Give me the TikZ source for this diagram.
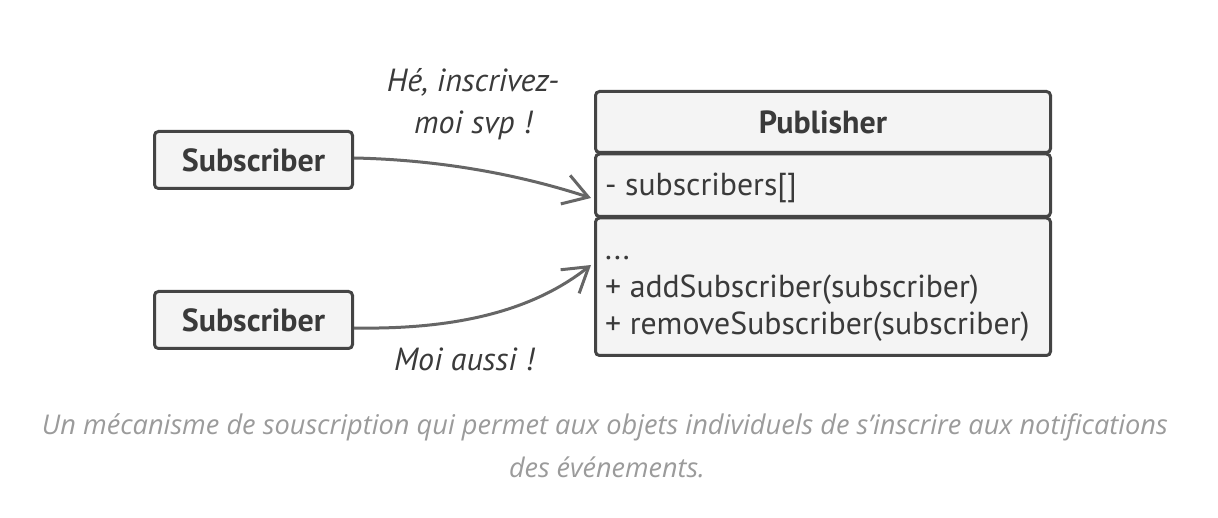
\documentclass[tikz,border=0pt]{standalone}
\usepackage{fontspec}
\setmainfont{PT Sans}
\newfontfamily\capfont{Open Sans}
\usetikzlibrary{arrows.meta}
\definecolor{boxline}{HTML}{444444}
\definecolor{boxfill}{HTML}{F4F4F4}
\definecolor{arrowc}{HTML}{666666}
\definecolor{textc}{HTML}{3A3A3A}
\definecolor{capc}{HTML}{9B9B9B}
\tikzset{
  umlbox/.style={draw=boxline, fill=boxfill, line width=3pt, rounded corners=4pt},
  boxlabel/.style={font=\fontsize{32}{38}\selectfont\bfseries, text=textc},
  membertext/.style={font=\fontsize{31.8}{36}\selectfont, text=textc, anchor=base west, inner sep=0pt},
  notetext/.style={font=\fontsize{32}{38}\selectfont\itshape, text=textc, inner sep=0pt},
  link/.style={draw=arrowc, line width=3pt, -{Straight Barb[length=24pt,width=30pt,line width=3pt]}},
  captext/.style={font=\capfont\itshape\fontsize{27}{32}\selectfont, text=capc, inner sep=0pt}
}
\begin{document}
\begin{tikzpicture}[x=1pt,y=-1pt]
\useasboundingbox (0,0) rectangle (1218,518);
% subscribers
\draw[umlbox] (154.5,131.5) rectangle (352.5,188.5);
\node[boxlabel] (sub1) at (253.5,160) {Subscriber};
\draw[umlbox] (154.5,291.5) rectangle (352.5,348.5);
\node[boxlabel] (sub2) at (253.5,320) {Subscriber};
\coordinate (s1) at (354,158);
\coordinate (s2) at (354,328);
% publisher
\draw[umlbox] (595.5,91.5) rectangle (1050.5,152.5);
\node[boxlabel] (pubname) at (823,122) {Publisher};
\draw[umlbox] (595.5,154) rectangle (1050.5,216.5);
\node[membertext] (attr) at (605,196) {- subscribers[]};
\draw[umlbox] (595.5,218) rectangle (1050.5,355.5);
\node[membertext] (m0) at (605,260) {...};
\node[membertext] (m1) at (605,298) {+ addSubscriber(subscriber)};
\node[membertext] (m2) at (605,335) {+ removeSubscriber(subscriber)};
\coordinate (t1) at (591,198);
\coordinate (t2) at (591,265);
% arrows
\draw[link] (s1) .. controls (450,160) and (530,178) .. (t1);
\draw[link] (s2) .. controls (470,330) and (540,305) .. (t2);
% notes
\node[notetext] (n1a) at (473,82) {Hé, inscrivez-};
\node[notetext] (n1b) at (473,125) {moi svp !};
\node[notetext] (n2) at (464,359) {Moi aussi !};
% caption
\node[captext] (cap1) at (605,427) {\resizebox{1126pt}{!}{Un mécanisme de souscription qui permet aux objets individuels de s’inscrire aux notifications}};
\node[captext] (cap2) at (607,467) {des événements.};
\end{tikzpicture}
\end{document}
